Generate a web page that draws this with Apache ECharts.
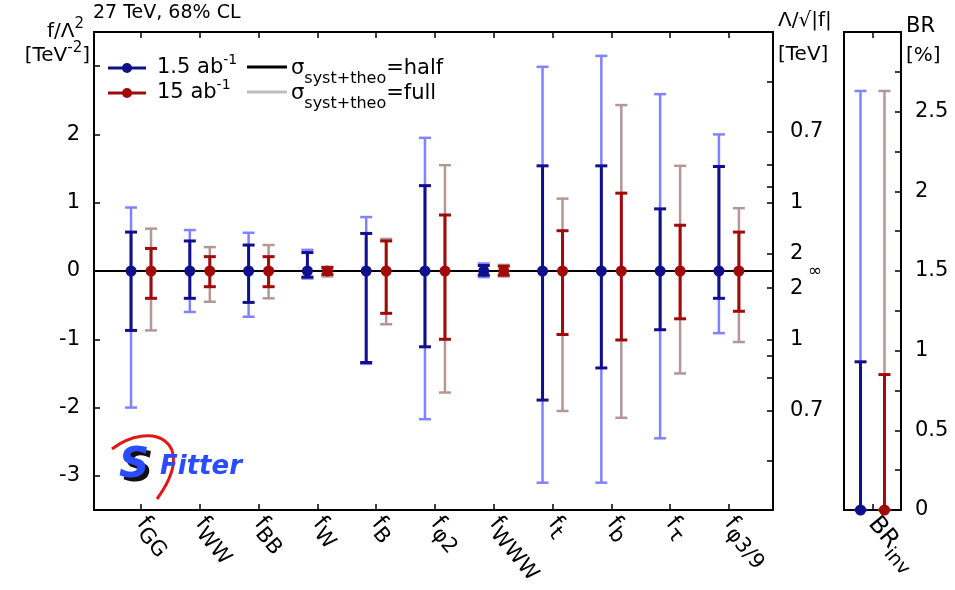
<!DOCTYPE html>
<html><head><meta charset="utf-8">
<script src="https://cdn.jsdelivr.net/npm/echarts@6/dist/echarts.min.js"></script>
<style>html,body{margin:0;padding:0;background:#fff}#c{width:955px;height:590px}</style>
</head><body><div id="c"></div>
<script>
// ---- data ----
const categories = ['GG','WW','BB','W','B','φ2','WWW','t','b','τ','φ3/9'];
const blueCentral = [0,0,0,0,0,0,0,0,0,0,0];
const redCentral  = [0,0,0,0,0,0,0,0,0,0,0];
// 1.5 ab^-1, sigma_syst+theo = half (dark) / full (light)
const blueHalfLo = [-0.87,-0.40,-0.46,-0.09,-1.34,-1.11,-0.06,-1.89,-1.42,-0.86,-0.40];
const blueHalfHi = [ 0.57, 0.44, 0.38, 0.27, 0.55, 1.25, 0.08, 1.54, 1.54, 0.91, 1.53];
const blueFullLo = [-2.00,-0.60,-0.67,-0.11,-1.36,-2.17,-0.09,-3.10,-3.10,-2.45,-0.91];
const blueFullHi = [ 0.93, 0.60, 0.56, 0.31, 0.79, 1.95, 0.11, 2.99, 3.15, 2.59, 2.00];
// 15 ab^-1
const redHalfLo = [-0.40,-0.23,-0.23,-0.05,-0.62,-1.00,-0.06,-0.93,-1.01,-0.70,-0.59];
const redHalfHi = [ 0.33, 0.21, 0.21, 0.05, 0.44, 0.82, 0.07, 0.59, 1.14, 0.67, 0.57];
const redFullLo = [-0.87,-0.45,-0.40,-0.08,-0.78,-1.78,-0.08,-2.05,-2.15,-1.50,-1.04];
const redFullHi = [ 0.62, 0.35, 0.38, 0.06, 0.47, 1.55, 0.09, 1.06, 2.43, 1.54, 0.92];
// BR_inv panel (%)
const brCategories = ['inv'];
const brBlueCentral = [0];
const brRedCentral = [0];
const brBlueHalfHi = [0.93];
const brBlueFullHi = [2.63];
const brRedHalfHi = [0.85];
const brRedFullHi = [2.63];
// tick labels
const leftTicks = [-3,-2,-1,0,1,2,3];
const leftLabels = [-3,-2,-1,0,1,2];
const rightTickLambdas = [0.6,0.7,0.8,0.9,1,2];
const rightLabelLambdas = [0.7,1,2];
const brLabels = [0,0.5,1,1.5,2,2.5];

// ---- styles ----
const FONT = 'DejaVu Sans';
const DB = '#10108c', LB = '#8282ff', DR = '#a00a0a', LR = '#b49696';
const OFF = 0.17, BROFF = 0.42;

function errBar(color, width, cap) {
  return function (params, api) {
    const x = api.value(0), lo = api.value(1), hi = api.value(2);
    const a = api.coord([x, lo]), b = api.coord([x, hi]);
    const st = {stroke: color, lineWidth: width};
    return {type: 'group', children: [
      {type: 'line', shape: {x1: a[0], y1: a[1], x2: b[0], y2: b[1]}, style: st},
      {type: 'line', shape: {x1: a[0]-cap, y1: a[1], x2: a[0]+cap, y2: a[1]}, style: st},
      {type: 'line', shape: {x1: b[0]-cap, y1: b[1], x2: b[0]+cap, y2: b[1]}, style: st}
    ]};
  };
}
function barSeries(name, xi, yi, color, width, data) {
  return {type: 'custom', name, xAxisIndex: xi, yAxisIndex: yi, clip: false,
    renderItem: errBar(color, width, 6), encode: {x: 0, y: [1, 2]}, data, silent: true};
}
const catIdx = categories.map((c, i) => i);
const mk = (lo, hi, d) => catIdx.map(i => [i + d, lo[i], hi[i]]);

const rightTicks = [];
rightTickLambdas.forEach(L => { rightTicks.push(1/(L*L)); rightTicks.push(-1/(L*L)); });
const rightLabels = [0];
rightLabelLambdas.forEach(L => { rightLabels.push(1/(L*L)); rightLabels.push(-1/(L*L)); });

const axisLineSt = {show: true, onZero: false, lineStyle: {color: '#000', width: 2}};
const tickSt = (vals) => ({show: true, inside: true, length: 6, customValues: vals, lineStyle: {color: '#000', width: 1.5}});

const option = {
  animation: false,
  backgroundColor: '#fff',
  grid: [
    {left: 94, right: 182, top: 32, bottom: 80, show: true, borderColor: '#000', borderWidth: 2},
    {left: 844, right: 54, top: 32, bottom: 80, show: true, borderColor: '#000', borderWidth: 2}
  ],
  xAxis: [
    {type: 'value', gridIndex: 0, position: 'bottom', min: -0.8, max: 10.75,
      axisLine: axisLineSt, splitLine: {show: false}, axisTick: tickSt(catIdx),
      axisLabel: {show: true, customValues: catIdx, rotate: -50, margin: 10,
        formatter: v => '{f|f}{s|' + categories[Math.round(v)] + '}',
        rich: {f: {fontFamily: FONT, fontSize: 23, lineHeight: 34, color: '#000'},
               s: {fontFamily: FONT, fontSize: 21, verticalAlign: 'bottom', color: '#000'}}}},
    {type: 'value', gridIndex: 0, position: 'top', min: -0.8, max: 10.75,
      axisLine: axisLineSt, splitLine: {show: false}, axisTick: tickSt(catIdx), axisLabel: {show: false}},
    {type: 'value', gridIndex: 1, position: 'bottom', min: -1, max: 1,
      axisLine: axisLineSt, splitLine: {show: false}, axisTick: tickSt([0]),
      axisLabel: {show: true, customValues: [0], rotate: -50, margin: 10,
        formatter: () => '{f|BR}{s|' + brCategories[0] + '}',
        rich: {f: {fontFamily: FONT, fontSize: 24, lineHeight: 36, color: '#000'},
               s: {fontFamily: FONT, fontSize: 19, verticalAlign: 'bottom', color: '#000'}}}},
    {type: 'value', gridIndex: 1, position: 'top', min: -1, max: 1,
      axisLine: axisLineSt, splitLine: {show: false}, axisTick: tickSt([0]), axisLabel: {show: false}}
  ],
  yAxis: [
    {type: 'value', gridIndex: 0, position: 'left', min: -3.5, max: 3.5,
      axisLine: axisLineSt, splitLine: {show: false}, axisTick: tickSt(leftTicks),
      axisLabel: {show: true, customValues: leftLabels, margin: 14, color: '#000', fontFamily: FONT, fontSize: 21}},
    {type: 'value', gridIndex: 0, position: 'right', min: -3.5, max: 3.5,
      axisLine: axisLineSt, splitLine: {show: false}, axisTick: tickSt(rightTicks),
      axisLabel: {show: true, customValues: rightLabels, margin: 17, color: '#000', fontFamily: FONT, fontSize: 21,
        formatter: v => {
          if (Math.abs(v) < 1e-9) return '{inf|∞}';
          return String(Math.round(10 / Math.sqrt(Math.abs(v))) / 10);
        },
        rich: {inf: {fontFamily: FONT, fontSize: 17, color: '#000', padding: [2, 0, 0, 18]}}}},
    {type: 'value', gridIndex: 1, position: 'right', min: 0, max: 3, interval: 0.25,
      axisLine: axisLineSt, splitLine: {show: false},
      axisTick: {show: true, inside: true, length: 6, lineStyle: {color: '#000', width: 1.5}},
      axisLabel: {show: true, customValues: brLabels, margin: 14, color: '#000', fontFamily: FONT, fontSize: 21}}
  ],
  series: [
    barSeries('b-full', 0, 0, LB, 2.5, mk(blueFullLo, blueFullHi, -OFF)),
    barSeries('r-full', 0, 0, LR, 2.5, mk(redFullLo, redFullHi, OFF)),
    barSeries('b-half', 0, 0, DB, 3, mk(blueHalfLo, blueHalfHi, -OFF)),
    barSeries('r-half', 0, 0, DR, 3, mk(redHalfLo, redHalfHi, OFF)),
    {type: 'scatter', xAxisIndex: 0, yAxisIndex: 0, symbolSize: 11, itemStyle: {color: DB, opacity: 1},
      data: catIdx.map(i => [i - OFF, blueCentral[i]]), z: 5,
      markLine: {silent: true, symbol: 'none', label: {show: false},
        lineStyle: {color: '#000', width: 2, type: 'solid'}, data: [{yAxis: 0}]}},
    {type: 'scatter', xAxisIndex: 0, yAxisIndex: 0, symbolSize: 11, itemStyle: {color: DR, opacity: 1},
      data: catIdx.map(i => [i + OFF, redCentral[i]]), z: 5},
    barSeries('br-b-full', 2, 2, LB, 2.5, [[-BROFF, brBlueCentral[0], brBlueFullHi[0]]]),
    barSeries('br-r-full', 2, 2, LR, 2.5, [[BROFF, brRedCentral[0], brRedFullHi[0]]]),
    barSeries('br-b-half', 2, 2, DB, 3, [[-BROFF, brBlueCentral[0], brBlueHalfHi[0]]]),
    barSeries('br-r-half', 2, 2, DR, 3, [[BROFF, brRedCentral[0], brRedHalfHi[0]]]),
    {type: 'scatter', xAxisIndex: 2, yAxisIndex: 2, symbolSize: 11, clip: false, itemStyle: {color: DB, opacity: 1},
      data: [[-BROFF, brBlueCentral[0]]], z: 5},
    {type: 'scatter', xAxisIndex: 2, yAxisIndex: 2, symbolSize: 11, clip: false, itemStyle: {color: DR, opacity: 1},
      data: [[BROFF, brRedCentral[0]]], z: 5}
  ],
  graphic: [
    // titles
    {type: 'text', x: 93, y: 13, style: {text: '27 TeV, 68% CL', fontFamily: FONT, fontSize: 19, fill: '#000', verticalAlign: 'middle'}},
    {type: 'text', x: 84, y: 32, style: {text: '{m|f/Λ}{p|2}', align: 'right', verticalAlign: 'middle',
      rich: {m: {fontFamily: FONT, fontSize: 20, lineHeight: 30, fill: '#000'}, p: {fontFamily: FONT, fontSize: 15, verticalAlign: 'top', fill: '#000'}}}},
    {type: 'text', x: 90, y: 56, style: {text: '{m|[TeV}{p|-2}{m|]}', align: 'right', verticalAlign: 'middle',
      rich: {m: {fontFamily: FONT, fontSize: 20, lineHeight: 30, fill: '#000'}, p: {fontFamily: FONT, fontSize: 15, verticalAlign: 'top', fill: '#000'}}}},
    {type: 'text', x: 778, y: 21, style: {text: 'Λ/√|f|', fontFamily: FONT, fontSize: 20, fill: '#000', verticalAlign: 'middle'}},
    {type: 'text', x: 778, y: 55, style: {text: '[TeV]', fontFamily: FONT, fontSize: 20, fill: '#000', verticalAlign: 'middle'}},
    {type: 'text', x: 906, y: 27, style: {text: 'BR', fontFamily: FONT, fontSize: 21, fill: '#000', verticalAlign: 'middle'}},
    {type: 'text', x: 906, y: 56, style: {text: '[%]', fontFamily: FONT, fontSize: 20, fill: '#000', verticalAlign: 'middle'}},
    // legend
    {type: 'line', shape: {x1: 108, y1: 68, x2: 146, y2: 68}, style: {stroke: DB, lineWidth: 3}},
    {type: 'circle', shape: {cx: 127, cy: 68, r: 5}, style: {fill: DB}},
    {type: 'text', x: 157, y: 68, style: {text: '{m|1.5 ab}{p|-1}', verticalAlign: 'middle',
      rich: {m: {fontFamily: FONT, fontSize: 21, lineHeight: 30, fill: '#000'}, p: {fontFamily: FONT, fontSize: 14, verticalAlign: 'top', fill: '#000'}}}},
    {type: 'line', shape: {x1: 108, y1: 93, x2: 146, y2: 93}, style: {stroke: DR, lineWidth: 3}},
    {type: 'circle', shape: {cx: 127, cy: 93, r: 5}, style: {fill: DR}},
    {type: 'text', x: 157, y: 93, style: {text: '{m|15 ab}{p|-1}', verticalAlign: 'middle',
      rich: {m: {fontFamily: FONT, fontSize: 21, lineHeight: 30, fill: '#000'}, p: {fontFamily: FONT, fontSize: 14, verticalAlign: 'top', fill: '#000'}}}},
    {type: 'line', shape: {x1: 247, y1: 67, x2: 287, y2: 67}, style: {stroke: '#000', lineWidth: 3}},
    {type: 'text', x: 291, y: 69, style: {text: '{m|σ}{s|syst+theo}{m|=half}', verticalAlign: 'middle',
      rich: {m: {fontFamily: FONT, fontSize: 21, lineHeight: 36, fill: '#000'}, s: {fontFamily: FONT, fontSize: 16, verticalAlign: 'bottom', fill: '#000'}}}},
    {type: 'line', shape: {x1: 247, y1: 92, x2: 287, y2: 92}, style: {stroke: '#bdbdbd', lineWidth: 3}},
    {type: 'text', x: 291, y: 94, style: {text: '{m|σ}{s|syst+theo}{m|=full}', verticalAlign: 'middle',
      rich: {m: {fontFamily: FONT, fontSize: 21, lineHeight: 36, fill: '#000'}, s: {fontFamily: FONT, fontSize: 16, verticalAlign: 'bottom', fill: '#000'}}}},
    // SFitter logo
    {type: 'bezierCurve', shape: {x1: 112, y1: 449, cpx1: 150, cpy1: 420, cpx2: 200, cpy2: 440, x2: 157, y2: 499},
      style: {stroke: '#e01818', lineWidth: 3, fill: null}},
    {type: 'text', x: 123, y: 470, style: {text: 'S', fontFamily: FONT, fontSize: 42, fontWeight: 'bold', fontStyle: 'italic', fill: '#111', verticalAlign: 'middle'}},
    {type: 'text', x: 119, y: 466, style: {text: 'S', fontFamily: FONT, fontSize: 42, fontWeight: 'bold', fontStyle: 'italic', fill: '#2a4cff', verticalAlign: 'middle'}},
    {type: 'text', x: 160, y: 467, style: {text: 'Fitter', fontFamily: FONT, fontSize: 26, fontWeight: 'bold', fontStyle: 'italic', fill: '#2a4cff', verticalAlign: 'middle'}}
  ]
};
const chart = echarts.init(document.getElementById('c'), null, {renderer: 'canvas'});
chart.setOption(option);
</script>
</body></html>
